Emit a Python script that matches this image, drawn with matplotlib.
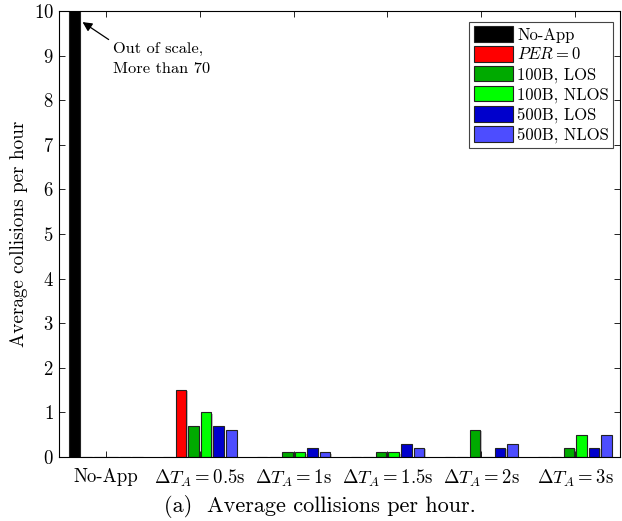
import numpy as np
import matplotlib
matplotlib.use("Agg")
import matplotlib.pyplot as plt

groups = ["No-App", r"$\Delta T_A = 0.5$s", r"$\Delta T_A = 1$s",
          r"$\Delta T_A = 1.5$s", r"$\Delta T_A = 2$s", r"$\Delta T_A = 3$s"]
series = ["No-App", r"$PER = 0$", "100B, LOS", "100B, NLOS", "500B, LOS", "500B, NLOS"]
colors = ["#000000", "#ff0000", "#00aa00", "#00ff00", "#0000cc", "#4d4dff"]

no_app     = [70, 0, 0, 0, 0, 0]
per0       = [0, 1.5, 0, 0, 0, 0]
los_100    = [0, 0.7, 0.1, 0.1, 0.6, 0.2]
nlos_100   = [0, 1.0, 0.1, 0.1, 0, 0.5]
los_500    = [0, 0.7, 0.2, 0.3, 0.2, 0.2]
nlos_500   = [0, 0.6, 0.1, 0.2, 0.3, 0.5]
values = [no_app, per0, los_100, nlos_100, los_500, nlos_500]

plt.rcParams["font.family"] = "cmr10"
plt.rcParams["mathtext.fontset"] = "cm"
plt.rcParams["axes.formatter.use_mathtext"] = True
plt.rcParams["font.size"] = 13.5

fig = plt.figure(figsize=(6.22, 5.21), dpi=100)
ax = fig.add_axes([0.095, 0.123, 0.902, 0.856])

x = np.arange(len(groups))
step = 0.134
width = 0.112
for i, (vals, col, lab) in enumerate(zip(values, colors, series)):
    pos = x + (i - 2.5) * step
    # drop shadow
    ax.bar(pos + 0.016, np.array(vals) - 0.03, width, color="#999999",
           alpha=0.6, linewidth=0, zorder=1)
    ax.bar(pos, vals, width, color=col, edgecolor="#222222", linewidth=0.8,
           label=lab, zorder=2)

ax.set_xlim(-0.5, 5.48)
ax.set_ylim(0, 10)
ax.set_yticks(range(0, 11))
ax.set_xticks(x)
ax.set_xticklabels(groups)
ax.set_ylabel("Average collisions per hour", fontsize=13.8)
ax.tick_params(direction="in", top=True, right=True, length=4, width=0.6)
ax.tick_params(axis="x", pad=8)
ax.tick_params(axis="y", pad=4)
for s in ax.spines.values():
    s.set_linewidth(0.8)

ax.annotate("Out of scale,\nMore than 70", xy=(-0.25, 9.75), xytext=(0.07, 9.3),
            fontsize=11.8, ha="left", va="top", linespacing=1.55,
            arrowprops=dict(arrowstyle="-|>", color="black", lw=0.9,
                            shrinkA=1, shrinkB=0, mutation_scale=14,
                            relpos=(0, 1)))

leg = ax.legend(loc="upper right", bbox_to_anchor=(0.988, 0.976), fontsize=12,
                handlelength=2.35, handleheight=1.05, handletextpad=0.25,
                labelspacing=0.2, borderpad=0.28, borderaxespad=0,
                fancybox=False, framealpha=1)
leg.get_frame().set_edgecolor("#444444")
leg.get_frame().set_linewidth(0.8)

fig.text(0.515, 0.017, "(a)  Average collisions per hour.", ha="center",
         va="baseline", fontsize=16)

fig.savefig("out.png", dpi=100)
